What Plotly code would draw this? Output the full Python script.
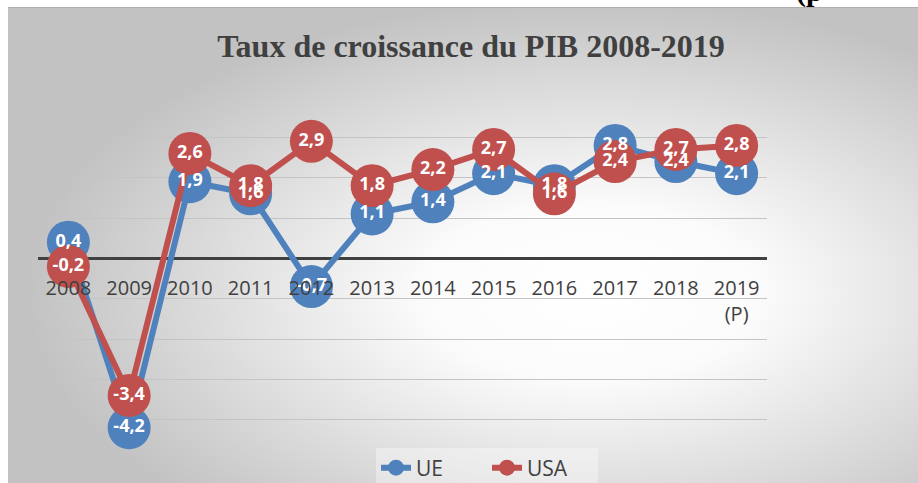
import base64
import plotly.graph_objects as go

years = ["2008", "2009", "2010", "2011", "2012", "2013", "2014", "2015",
         "2016", "2017", "2018", "2019<br>(P)"]
ue = [0.4, -4.2, 1.9, 1.6, -0.7, 1.1, 1.4, 2.1, 1.8, 2.8, 2.4, 2.1]
usa = [-0.2, -3.4, 2.6, 1.8, 2.9, 1.8, 2.2, 2.7, 1.6, 2.4, 2.7, 2.8]

BLUE = "#4f81bd"
RED = "#c0504d"
W, H = 918, 483
L, R, T, B = 38, 151, 97, 23
PW, PH = W - L - R, H - T - B


def fmt(vals):
    return [f"{v:.1f}".replace(".", ",") for v in vals]


def px_x(px):
    return (px - L) / PW


def px_y(py):
    return (H - B - py) / PH


svg = f"""<svg xmlns='http://www.w3.org/2000/svg' width='910' height='476' viewBox='0 0 910 476' preserveAspectRatio='none'>
<defs><radialGradient id='g' cx='0.64' cy='0.6' r='0.62' gradientUnits='objectBoundingBox'>
<stop offset='0' stop-color='#ffffff'/><stop offset='0.3' stop-color='#fbfbfb'/><stop offset='1' stop-color='#c2c2c2'/></radialGradient></defs>
<rect x='0' y='0' width='910' height='476' fill='url(#g)'/>
<line x1='0' y1='0.5' x2='910' y2='0.5' stroke='#b0b0b0' stroke-width='1'/>
</svg>"""
src = "data:image/svg+xml;base64," + base64.b64encode(svg.encode()).decode()

fig = go.Figure()
fig.add_trace(go.Scatter(x=years, y=ue, name="UE", mode="lines+markers",
                         line=dict(color=BLUE, width=6),
                         marker=dict(color=BLUE, size=43)))
fig.add_trace(go.Scatter(x=years, y=usa, name="USA", mode="lines+markers",
                         line=dict(color=RED, width=6),
                         marker=dict(color=RED, size=43)))
for vals in (ue, usa):
    fig.add_trace(go.Scatter(x=years, y=vals, mode="text", text=fmt(vals),
                             textposition="middle center", showlegend=False,
                             hoverinfo="skip",
                             textfont=dict(family="Open Sans", size=18,
                                           color="white", weight="bold")))

fig.update_layout(
    width=W, height=H,
    margin=dict(l=L, r=R, t=T, b=B, autoexpand=False),
    paper_bgcolor="white",
    plot_bgcolor="rgba(0,0,0,0)",
    images=[dict(source=src, xref="paper", yref="paper",
                 x=px_x(8), y=px_y(7), sizex=910 / PW, sizey=476 / PH,
                 xanchor="left", yanchor="top", sizing="stretch",
                 layer="below")],
    title=dict(text="<b>Taux de croissance du PIB 2008-2019</b>",
               font=dict(family="Liberation Serif", size=32, color="#404040"),
               x=471 / W, xref="container", xanchor="center",
               y=1 - 46 / H, yref="container", yanchor="middle"),
    xaxis=dict(type="category", range=[-0.5, 11.5], anchor="free",
               position=5 / 9, showline=False, ticks="", showgrid=False,
               ticklabelstandoff=16, automargin=False,
               tickfont=dict(family="Open Sans", size=20, color="#404040")),
    yaxis=dict(range=[-5, 4], dtick=1, showticklabels=False, showgrid=True,
               gridcolor="#c4c4c4", gridwidth=1, zeroline=True,
               automargin=False,
               zerolinecolor="#404040", zerolinewidth=3, domain=[0, 1]),
    legend=dict(orientation="h", x=px_x(487), xanchor="center",
                y=px_y(468), yanchor="middle",
                bgcolor="rgba(255,255,255,0.35)",
                font=dict(family="Open Sans", size=21, color="#404040"),
                entrywidth=66, entrywidthmode="pixels"),
    showlegend=True,
    annotations=[dict(text="<b>(p</b>", xref="paper", yref="paper",
                      x=px_x(810), y=px_y(9), xanchor="center",
                      yanchor="bottom", showarrow=False, borderpad=0,
                      font=dict(family="Liberation Serif", size=30,
                                color="black"))],
)

fig.write_html("out.html",
               config={"displayModeBar": False},
               post_script="document.body.style.margin='0';"
                           "document.body.style.overflow='hidden';")
